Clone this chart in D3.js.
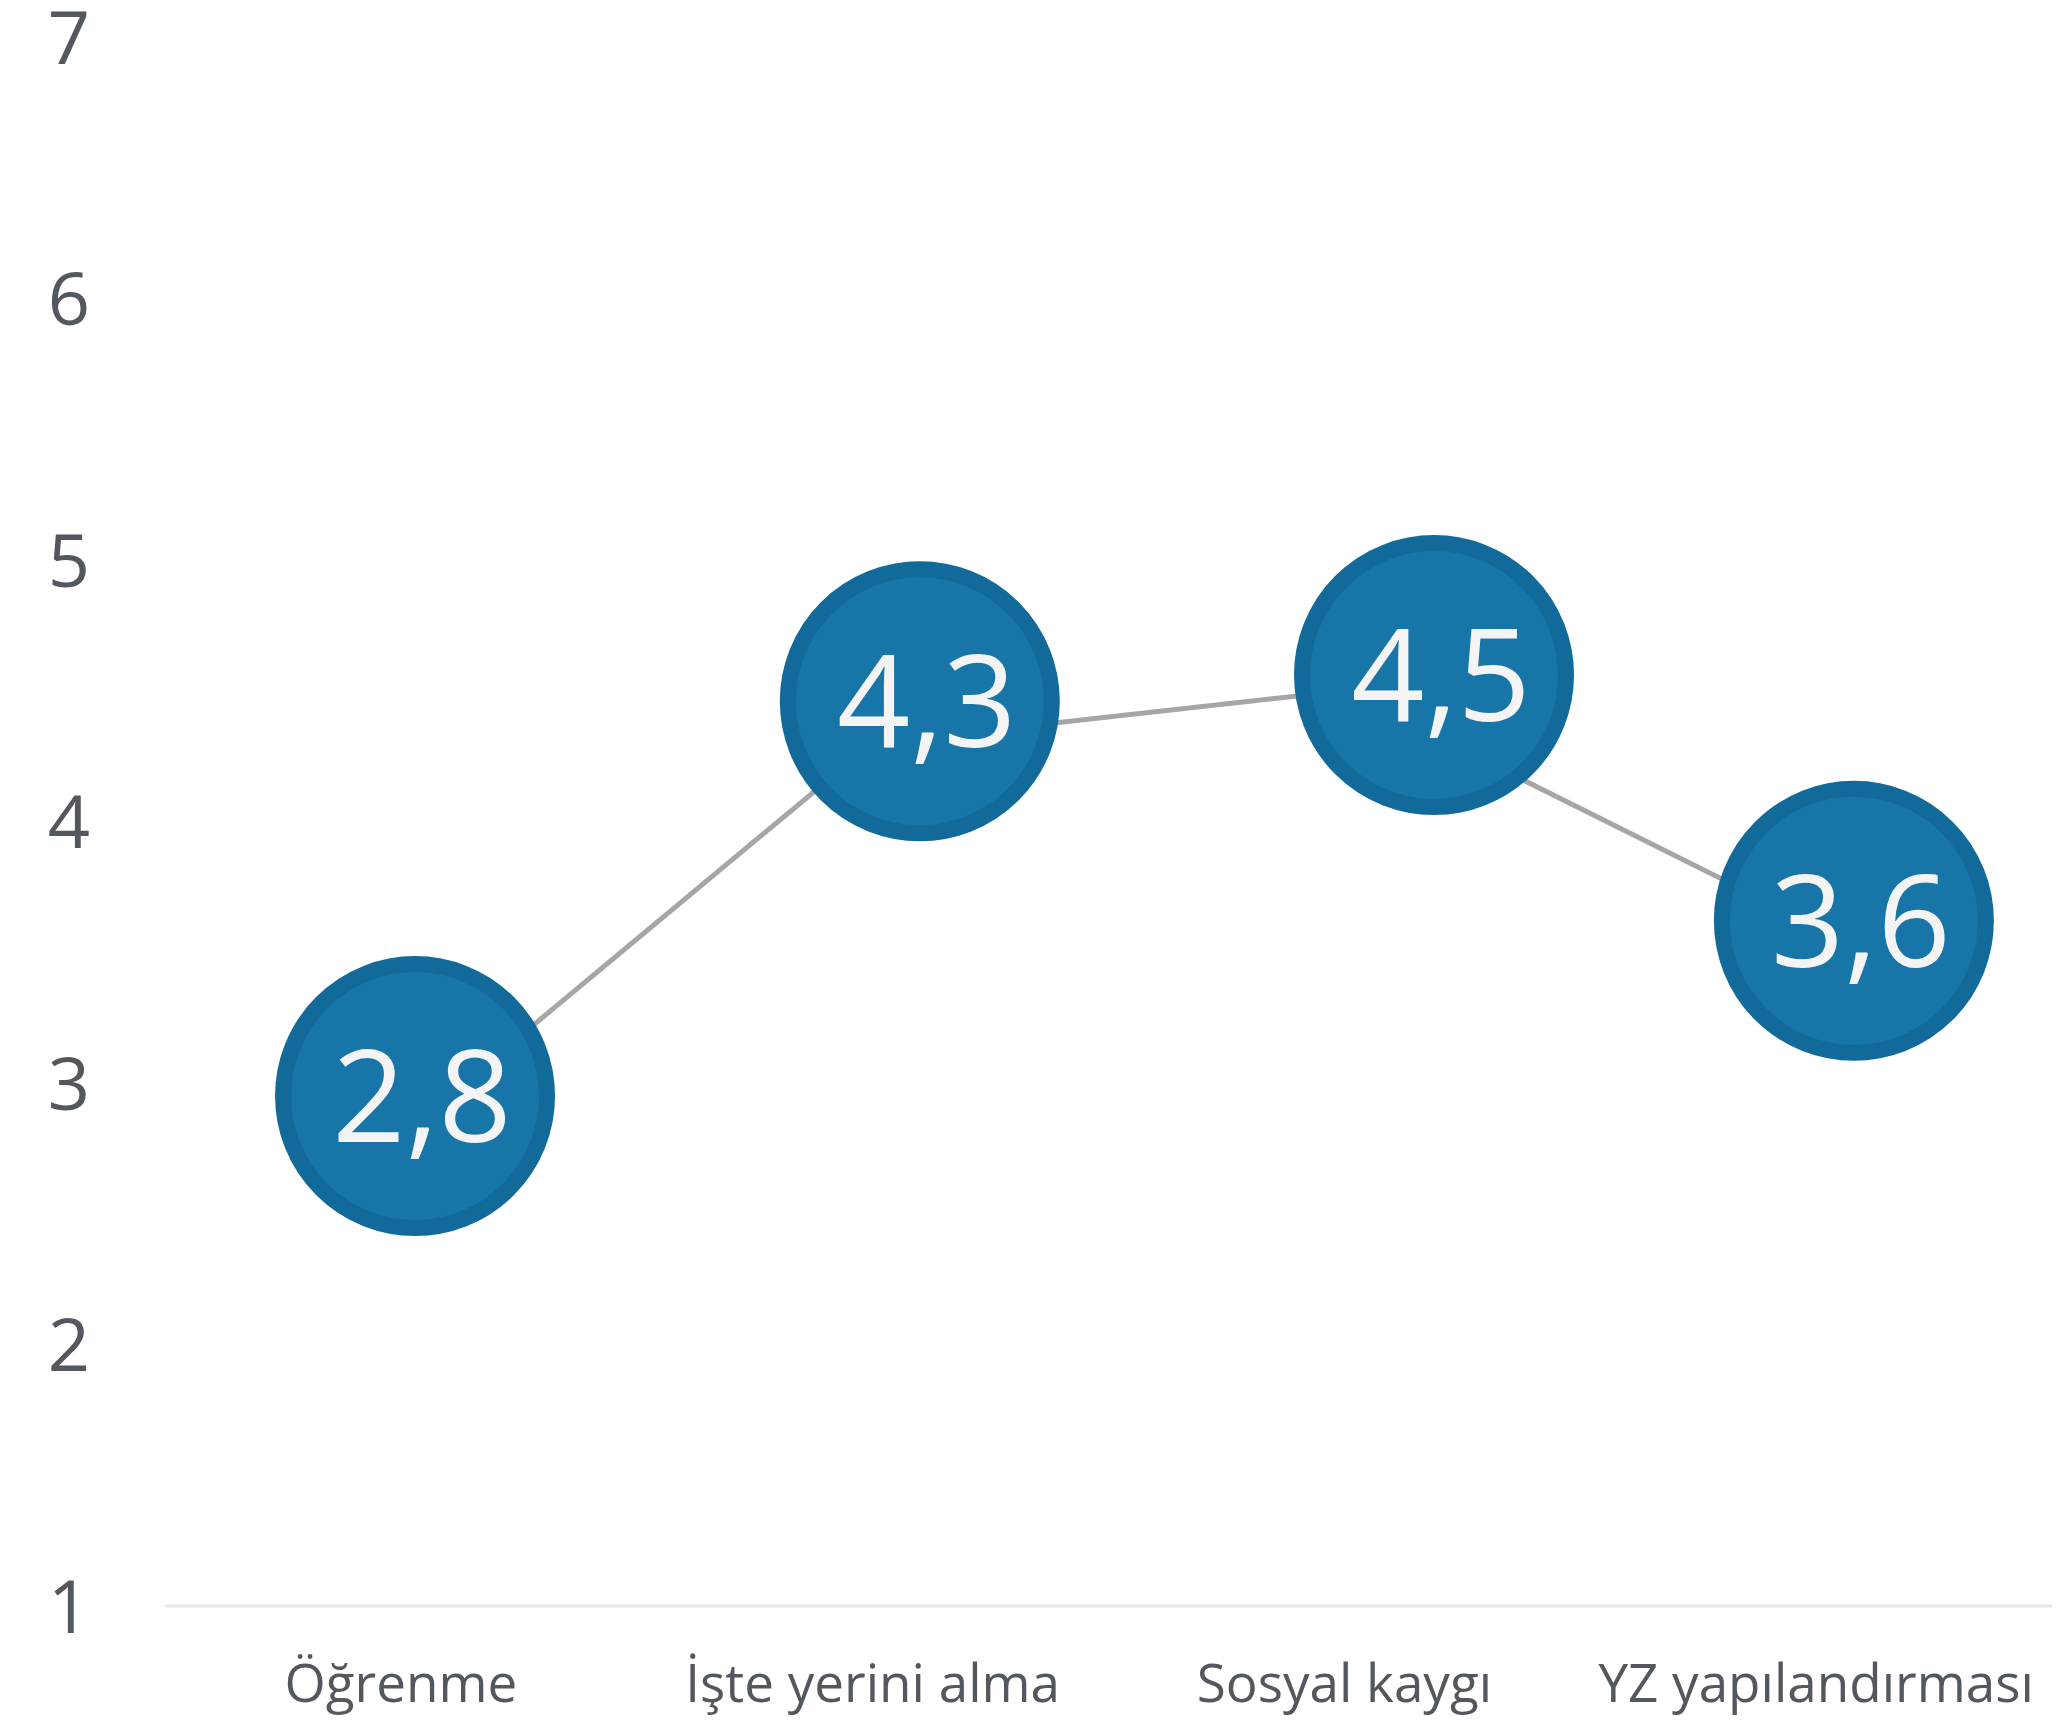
<!DOCTYPE html>
<html>
<head>
<meta charset="utf-8">
<script src="https://cdn.jsdelivr.net/npm/d3@7"></script>
<style>
  html, body { margin: 0; padding: 0; background: #fff; }
  svg { display: block; font-family: "Open Sans", "Noto Sans", sans-serif; }
</style>
</head>
<body>
<div id="chart"></div>
<script>
// categories and scores (line goes through these)
const categories = ["Öğrenme", "İşte yerini alma", "Sosyal kaygı", "YZ yapılandırması"];
const scores     = [2.8, 4.3, 4.5, 3.6];
const yTicks     = [1, 2, 3, 4, 5, 6, 7];

// where the labelled bubbles sit (category slot, score units)
const bubbleSlot  = [0.03, 1.10, 2.19, 3.08];
const bubbleScore = [2.95, 4.46, 4.56, 3.62];

const drawChart = () => {

  const width  = 2065;
  const height = 1724;
  const margin = { top: 37, right: 13, bottom: 118, left: 165 };

  const svg = d3.select("#chart")
    .append("svg")
    .attr("width", width)
    .attr("height", height);

  const x = d3.scaleBand()
    .domain(categories)
    .range([margin.left, width - margin.right])
    .padding(0);

  // continuous version of the band positions, for the bubbles
  const xSlot = d3.scaleLinear()
    .domain([-0.5, categories.length - 0.5])
    .range([margin.left, width - margin.right]);

  const y = d3.scaleLinear()
    .domain([1, 7])
    .range([height - margin.bottom, margin.top]);

  // y tick labels, no axis line
  svg.append("g")
    .selectAll("text")
    .data(yTicks)
    .join("text")
      .attr("x", 90)
      .attr("y", d => y(d))
      .attr("dy", "0.36em")
      .attr("text-anchor", "end")
      .attr("fill", "#53575e")
      .style("font-size", "74px")
      .text(d => d);

  // baseline
  svg.append("line")
    .attr("x1", margin.left)
    .attr("x2", width - margin.right)
    .attr("y1", y(1))
    .attr("y2", y(1))
    .attr("stroke", "#e6e7eb")
    .attr("stroke-width", 3);

  // x labels
  svg.append("g")
    .selectAll("text")
    .data(categories)
    .join("text")
      .attr("x", d => x(d) + x.bandwidth() / 2)
      .attr("y", 1702)
      .attr("text-anchor", "middle")
      .attr("fill", "#53575e")
      .style("font-size", "53px")
      .text(d => d);

  // connecting line
  const line = d3.line()
    .x((d, i) => x(categories[i]) + x.bandwidth() / 2)
    .y(d => y(d));

  svg.append("path")
    .datum(scores)
    .attr("d", line)
    .attr("fill", "none")
    .attr("stroke", "#a6a6a6")
    .attr("stroke-width", 5);

  // bubbles with value labels
  const bubbles = svg.append("g")
    .selectAll("g")
    .data(scores.map((s, i) => ({ score: s, slot: bubbleSlot[i], pos: bubbleScore[i] })))
    .join("g")
      .attr("transform", d => `translate(${xSlot(d.slot)}, ${y(d.pos)})`);

  bubbles.append("circle")
    .attr("r", 132)
    .attr("fill", "#1775a8")
    .attr("stroke", "#126a9a")
    .attr("stroke-width", 16);

  bubbles.append("text")
    .attr("text-anchor", "middle")
    .attr("x", 7)
    .attr("y", 46)
    .attr("fill", "#f4f4f4")
    .style("font-size", "128px")
    .text(d => String(d.score).replace(".", ","));
};

drawChart();
</script>
</body>
</html>
